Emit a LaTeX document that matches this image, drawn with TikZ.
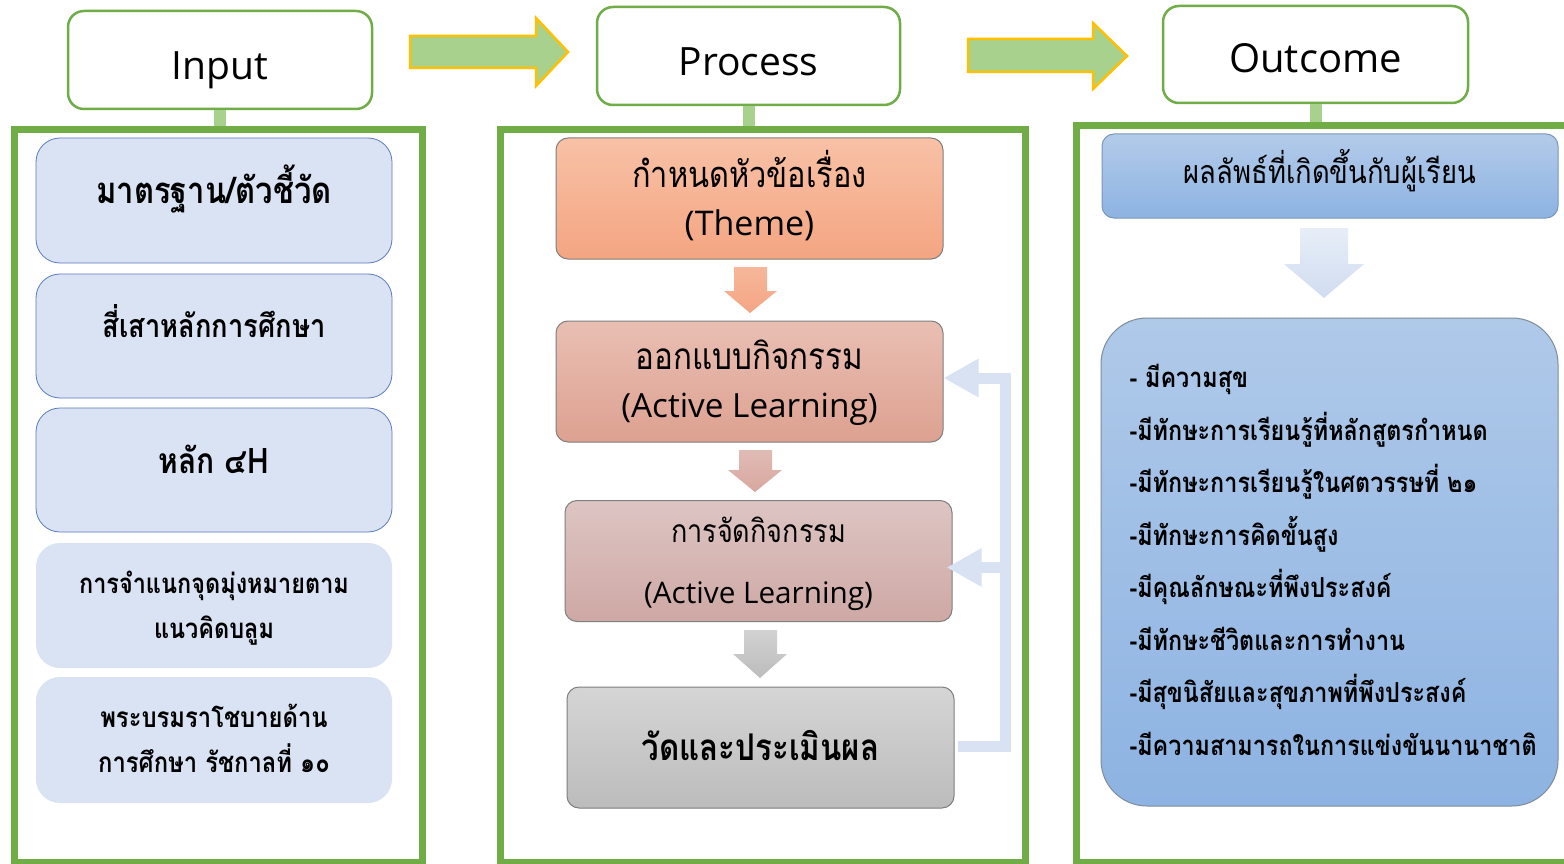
\documentclass[tikz,border=0pt]{standalone}
\usepackage{fontspec}
\setmainfont{Open Sans}
\newfontfamily\thai[Script=Thai,FakeStretch=0.85]{Loma}
\usetikzlibrary{arrows.meta,calc}
\definecolor{frameg}{HTML}{70AD47}
\definecolor{stubg}{HTML}{A9D18E}
\definecolor{arrowo}{HTML}{FFC000}
\definecolor{leftfill}{HTML}{DAE3F3}
\definecolor{leftline}{HTML}{5B7BC0}
\definecolor{fbcol}{HTML}{D9E2F3}
\definecolor{pline}{HTML}{7F7F7F}
\definecolor{pAt}{HTML}{F8C1A6}\definecolor{pAb}{HTML}{F4A582}
\definecolor{pBt}{HTML}{E9BFB3}\definecolor{pBb}{HTML}{DDA190}
\definecolor{pCt}{HTML}{DDC5C3}\definecolor{pCb}{HTML}{CEA8A4}
\definecolor{pDt}{HTML}{D5D5D5}\definecolor{pDb}{HTML}{BCBCBC}
\definecolor{aAt}{HTML}{F6B79A}\definecolor{aAb}{HTML}{F4A584}
\definecolor{aBt}{HTML}{E0BCB5}\definecolor{aBb}{HTML}{D8A79E}
\definecolor{aCt}{HTML}{D2D2D2}\definecolor{aCb}{HTML}{BCBCBC}
\definecolor{rAt}{HTML}{B3CBEA}\definecolor{rAb}{HTML}{8DB3E2}
\definecolor{rAl}{HTML}{7A96B8}
\definecolor{rBt}{HTML}{AFC9E9}\definecolor{rBb}{HTML}{8DB3E2}
\definecolor{rBl}{HTML}{7F8C99}
\definecolor{raT}{HTML}{E7EEF8}\definecolor{raB}{HTML}{D0DCF0}
\newcommand{\fsz}[1]{\fontsize{#1}{#1}\selectfont}
\begin{document}
\begin{tikzpicture}[x=1pt,y=-1pt,
  hdr/.style={draw=frameg, line width=2.5pt, fill=white, rounded corners=16pt, inner sep=0pt},
  hdrtext/.style={anchor=base, font=\fsz{39}},
  frm/.style={draw=frameg, line width=7pt, inner sep=0pt},
  stub/.style={stubg, line width=12pt},
  bigarrow/.style={draw=arrowo, line width=2.5pt, fill=stubg, line join=miter},
  lbox/.style={fill=leftfill, rounded corners=24pt, inner sep=0pt, minimum width=356pt},
  lboxline/.style={lbox, draw=leftline, line width=0.8pt},
  lt/.style={anchor=base, font=\thai\bfseries\fsz{#1}},
  pbox/.style={draw=pline, line width=1pt, rounded corners=12pt, inner sep=0pt, minimum width=387pt, minimum height=121pt},
  pt/.style={anchor=base, font=\thai\fsz{#1}},
  pl/.style={anchor=base, font=\fsz{#1}},
  fb/.style={fbcol, line width=11pt, line join=miter},
  fbtip/.style={-{Triangle[length=35pt,width=36pt]}},
  lst/.style={anchor=base west, font=\thai\bfseries\fsz{27.5}}
]
\useasboundingbox (0,0) rectangle (1564,864);
\fill[white] (0,0) rectangle (1564,864);

% ---------- headers ----------
\node[hdr, minimum width=304pt, minimum height=98pt] (hin) at (220,60) {};
\node[hdr, minimum width=303pt, minimum height=98pt] (hpr) at (748.5,56) {};
\node[hdr, minimum width=305pt, minimum height=97pt] (hout) at (1315.5,54.5) {};
\node[hdrtext] (tin) at (220,80) {Input};
\node[hdrtext] (tpr) at (748.5,76) {Process};
\node[hdrtext, font=\fsz{40}] (tout) at (1315.5,73) {Outcome};

% ---------- frames ----------
\node[minimum width=408pt, minimum height=732.5pt, inner sep=0pt] (fin) at (218.5,495.75) {};
\node[minimum width=525pt, minimum height=732.5pt, inner sep=0pt] (fpr) at (763,495.75) {};
\node[minimum width=495pt, minimum height=736pt, inner sep=0pt] (fout) at (1324.5,494) {};
\draw[stub] (hin.south) -- (hin.south |- fin.north);
\draw[stub] (hpr.south) -- (hpr.south |- fpr.north);
\draw[stub] (hout.south) -- (hout.south |- fout.north);
\draw[frm] (fin.north west) rectangle (fin.south east);
\draw[frm] (fpr.north west) rectangle (fpr.south east);
\draw[frm] (fout.north west) rectangle (fout.south east);

% ---------- big arrows ----------
\draw[bigarrow] (410,36) -- (536,36) -- (536,18) -- (568,52) -- (536,86) -- (536,68) -- (410,68) -- cycle;
\draw[bigarrow] (968,39) -- (1093,39) -- (1093,23) -- (1127,56) -- (1093,89) -- (1093,72) -- (968,72) -- cycle;

% ---------- input column ----------
\node[lboxline, minimum height=125pt] (b1) at (214,200.5) {};
\node[lboxline, minimum height=124pt] (b2) at (214,336) {};
\node[lboxline, minimum height=124pt] (b3) at (214,470) {};
\node[lbox, minimum height=125pt] (b4) at (214,605.5) {};
\node[lbox, minimum height=126pt] (b5) at (214,740) {};
\node[lt=36.5] (tb1) at (214,203) {มาตรฐาน/ตัวชี้วัด};
\node[lt=32.1] (tb2) at (214,337) {สี่เสาหลักการศึกษา};
\node[lt=35.3] (tb3) at (214,473) {หลัก ๔H};
\node[lt=27.6] (tb4a) at (214,593) {การจำแนกจุดมุ่งหมายตาม};
\node[lt=27.6] (tb4b) at (214,638) {แนวคิดบลูม};
\node[lt=28] (tb5a) at (214,727) {พระบรมราโชบายด้าน};
\node[lt=28] (tb5b) at (214,772) {การศึกษา รัชกาลที่ ๑๐};

% ---------- process column ----------
\node[pbox, top color=pAt, bottom color=pAb] (p1) at (749.5,198.5) {};
\node[pbox, top color=pBt, bottom color=pBb] (p2) at (749.5,381.5) {};
\node[pbox, top color=pCt, bottom color=pCb] (p3) at (758.5,561) {};
\node[pbox, top color=pDt, bottom color=pDb] (p4) at (760.5,747.5) {};
\node[pt=36.2] (tp1a) at (749.5,187) {กำหนดหัวข้อเรื่อง};
\node[pl=34] (tp1b) at (749.5,235) {(Theme)};
\node[pt=36.9] (tp2a) at (749.5,369) {ออกแบบกิจกรรม};
\node[pl=33.3] (tp2b) at (749.5,417) {(Active Learning)};
\node[pt=31.8] (tp3a) at (758.5,542) {การจัดกิจกรรม};
\node[pl=29.7] (tp3b) at (758.5,603) {(Active Learning)};
\node[lt=36.8] (tp4) at (760.5,760) {วัดและประเมินผล};

% down arrows
\shade[top color=aAt, bottom color=aAb] (734,267) -- (767,267) -- (767,291) -- (777,291) -- (750,313) -- (724,291) -- (734,291) -- cycle;
\shade[top color=aBt, bottom color=aBb] (739,450) -- (772,450) -- (772,470) -- (782,470) -- (755,492) -- (728,470) -- (739,470) -- cycle;
\shade[top color=aCt, bottom color=aCb] (744,630) -- (777,630) -- (777,654) -- (787,654) -- (760,678) -- (733,654) -- (744,654) -- cycle;

% feedback connectors
\coordinate (fbx) at (1005.5,746.5);
\coordinate (fbm) at (1005.5,567.5);
\draw[fb, fbtip] ($(p4.east)+(3,-1)$) -- (fbx) |- ($(p2.east)+(0,-3.5)$);
\draw[fb, fbtip] (fbm) -- ($(p3.east)+(-6,6.5)$);

% ---------- outcome column ----------
\node[draw=rAl, line width=1pt, rounded corners=12pt, top color=rAt, bottom color=rAb, minimum width=456pt, minimum height=84pt, inner sep=0pt] (r1) at (1330,176) {};
\node[pt=32.2] (tr1) at (1330,183) {ผลลัพธ์ที่เกิดขึ้นกับผู้เรียน};
\shade[top color=raT, bottom color=raB] (1300,228) -- (1348,228) -- (1348,264) -- (1364,264) -- (1324,298) -- (1284,264) -- (1300,264) -- cycle;
\node[draw=rBl, line width=1pt, rounded corners=46pt, top color=rBt, bottom color=rBb, minimum width=457pt, minimum height=488pt, inner sep=0pt] (r2) at (1329.5,562) {};
\node[lst] (l1) at (1126,387) {- มีความสุข};
\node[lst] (l2) at (1126,440) {-มีทักษะการเรียนรู้ที่หลักสูตรกำหนด};
\node[lst] (l3) at (1126,492) {-มีทักษะการเรียนรู้ในศตวรรษที่ ๒๑};
\node[lst] (l4) at (1126,545) {-มีทักษะการคิดขั้นสูง};
\node[lst] (l5) at (1126,597) {-มีคุณลักษณะที่พึงประสงค์};
\node[lst] (l6) at (1126,650) {-มีทักษะชีวิตและการทำงาน};
\node[lst] (l7) at (1126,702) {-มีสุขนิสัยและสุขภาพที่พึงประสงค์};
\node[lst] (l8) at (1126,755) {-มีความสามารถในการแข่งขันนานาชาติ};
\end{tikzpicture}
\end{document}
